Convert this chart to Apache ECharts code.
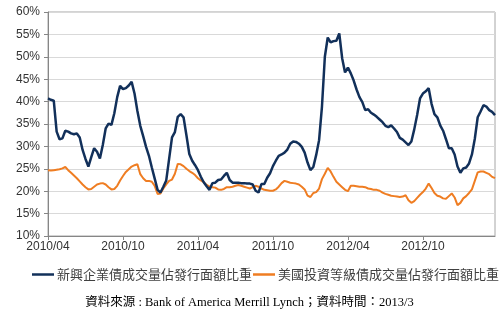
<!DOCTYPE html>
<html>
<head>
<meta charset="utf-8">
<script src="https://cdn.jsdelivr.net/npm/echarts@6/dist/echarts.min.js"></script>
<style>
  html, body { margin: 0; padding: 0; background: #ffffff; }
  #chart { width: 499px; height: 322px; }
</style>
</head>
<body>
<div id="chart"></div>
<script>
// Weekly share of traded volume versus outstanding face value (%), Apr 2010 – Mar 2013
const seriesNames = ['新興企業債成交量佔發行面額比重', '美國投資等級債成交量佔發行面額比重'];

const emergingCorp = [
  40.7, 40.4, 40.2, 33.3, 31.6, 31.8, 33.5, 33.3, 32.9, 32.7,
  32.9, 32.0, 29.2, 27.2, 25.5, 27.6, 29.6, 28.8, 27.3, 30.3,
  34.0, 35.1, 34.8, 37.4, 41.0, 43.5, 42.8, 43.0, 43.6, 44.4,
  41.8, 37.9, 34.6, 32.3, 29.9, 27.9, 25.3, 22.8, 20.3, 19.7,
  21.0, 22.4, 27.2, 32.0, 33.2, 36.6, 37.2, 36.5, 32.5, 28.3,
  26.8, 25.8, 24.7, 23.2, 22.0, 21.1, 20.3, 21.8, 21.9, 22.5,
  22.6, 23.4, 24.1, 22.5, 21.9, 21.9, 21.9, 21.8, 21.8, 21.7,
  21.7, 21.5, 20.1, 19.7, 21.6, 21.6, 23.0, 24.0, 25.6, 26.8,
  27.9, 28.2, 28.6, 29.3, 30.6, 31.1, 31.0, 30.6, 29.9, 28.6,
  26.4, 24.7, 25.4, 28.1, 31.4, 38.9, 50.0, 54.3, 53.2, 53.5,
  53.6, 55.2, 49.7, 46.5, 47.6, 46.3, 44.7, 42.7, 41.0, 39.9,
  38.1, 38.3, 37.5, 37.1, 36.6, 36.0, 35.4, 34.6, 34.3, 34.7,
  34.0, 33.2, 31.9, 31.5, 30.9, 30.3, 31.1, 33.8, 37.0, 40.7,
  41.8, 42.3, 43.0, 39.5, 37.2, 36.5, 34.7, 33.5, 31.6, 29.6,
  29.6, 28.2, 25.5, 24.1, 25.1, 25.3, 26.2, 28.2, 31.7, 36.5,
  37.8, 39.2, 38.9, 38.1, 37.7, 37.0
];

const usInvestmentGrade = [
  24.7, 24.6, 24.7, 24.8, 24.9, 25.1, 25.4, 24.7, 24.1, 23.5,
  22.9, 22.2, 21.5, 20.9, 20.4, 20.5, 21.0, 21.5, 21.7, 21.8,
  21.5, 20.9, 20.4, 20.5, 21.2, 22.4, 23.4, 24.3, 24.9, 25.5,
  25.8, 26.0, 23.8, 22.9, 22.3, 22.3, 22.1, 21.2, 19.4, 19.5,
  20.6, 21.5, 22.3, 22.6, 23.9, 26.1, 26.0, 25.6, 25.0, 24.5,
  24.1, 23.6, 22.9, 22.4, 22.0, 21.4, 21.0, 20.9, 20.8, 20.4,
  20.3, 20.5, 20.9, 20.9, 21.0, 21.2, 21.4, 21.2, 21.0, 20.8,
  20.6, 20.9, 21.2, 21.0, 20.6, 20.3, 20.2, 20.1, 20.1, 20.4,
  21.0, 21.8, 22.3, 22.1, 21.9, 21.8, 21.7, 21.5, 21.0, 20.4,
  19.0, 18.7, 19.6, 19.8, 20.6, 22.7, 23.9, 25.2, 24.4, 23.2,
  22.1, 21.5, 20.9, 20.3, 20.0, 21.2, 21.2, 21.1, 21.0, 21.0,
  20.9, 20.6, 20.5, 20.3, 20.3, 20.1, 19.7, 19.4, 19.2, 19.0,
  18.9, 18.8, 18.7, 18.8, 19.1, 18.0, 17.4, 17.8, 18.5, 19.2,
  19.8, 20.6, 21.7, 20.7, 19.6, 19.0, 18.8, 18.4, 18.3, 18.9,
  19.5, 18.6, 16.9, 17.4, 18.4, 18.9, 19.6, 20.4, 22.3, 24.2,
  24.4, 24.4, 24.1, 23.8, 23.2, 22.9
];

// Half-year tick labels, one every 26 weeks
const tickLabels = ['2010/04', '2010/10', '2011/04', '2011/10', '2012/04', '2012/10'];
const weeksPerTick = 26;

// Weekly category dates starting 2010-04-02
const weeks = [];
for (let i = 0; i < emergingCorp.length; i++) {
  const d = new Date(Date.UTC(2010, 3, 2 + i * 7));
  weeks.push(d.toISOString().slice(0, 10));
}

const legendBase = {
  top: 268, padding: 0,
  itemWidth: 22, itemHeight: 2.5,
  icon: 'rect',
  textStyle: { color: '#404040', fontSize: 13, fontFamily: 'Noto Sans CJK TC', padding: [0, 0, 0, -2] }
};

const chart = echarts.init(document.getElementById('chart'), null, { renderer: 'canvas' });

chart.setOption({
  animation: false,
  backgroundColor: '#ffffff',
  grid: {
    left: 48, right: 4, top: 12, bottom: 86,
    show: true, borderColor: '#a6a6a6', borderWidth: 1, backgroundColor: 'transparent'
  },
  xAxis: {
    type: 'category',
    data: weeks,
    boundaryGap: false,
    axisLine: { lineStyle: { color: '#868686', width: 1 } },
    axisTick: {
      show: true, length: 4, lineStyle: { color: '#868686' },
      interval: (idx) => idx % weeksPerTick === 0
    },
    axisLabel: {
      interval: (idx) => idx % weeksPerTick === 0,
      formatter: (val, idx) => tickLabels[Math.round(idx / weeksPerTick)] || '',
      color: '#333333', fontSize: 12, fontFamily: 'Liberation Sans, Arial, sans-serif', margin: 5
    },
    splitLine: { show: false }
  },
  yAxis: {
    type: 'value',
    min: 10, max: 60, interval: 5,
    axisLine: { show: true, lineStyle: { color: '#868686', width: 1 } },
    axisTick: { show: true, length: 4, lineStyle: { color: '#868686' } },
    axisLabel: {
      formatter: '{value}%', color: '#333333', fontSize: 12,
      fontFamily: 'Liberation Sans, Arial, sans-serif', margin: 8
    },
    splitLine: { lineStyle: { color: '#d9d9d9', width: 1 } }
  },
  legend: [
    Object.assign({ left: 32, data: [seriesNames[0]] }, legendBase),
    Object.assign({ left: 253, data: [seriesNames[1]] }, legendBase)
  ],
  series: [
    {
      name: seriesNames[0], type: 'line', data: emergingCorp,
      showSymbol: false, symbol: 'none', smooth: false,
      lineStyle: { color: '#12305a', width: 2.5 },
      itemStyle: { color: '#12305a' }, z: 3
    },
    {
      name: seriesNames[1], type: 'line', data: usInvestmentGrade,
      showSymbol: false, symbol: 'none', smooth: false,
      lineStyle: { color: '#ef7d22', width: 2 },
      itemStyle: { color: '#ef7d22' }, z: 2
    }
  ],
  graphic: [
    {
      type: 'text', left: 'center', top: 296,
      style: {
        text: '資料來源 : Bank of America Merrill Lynch；資料時間：2013/3',
        font: '12.5px "Liberation Serif", "Noto Sans CJK TC", serif',
        fill: '#000000'
      }
    }
  ]
});
</script>
</body>
</html>
